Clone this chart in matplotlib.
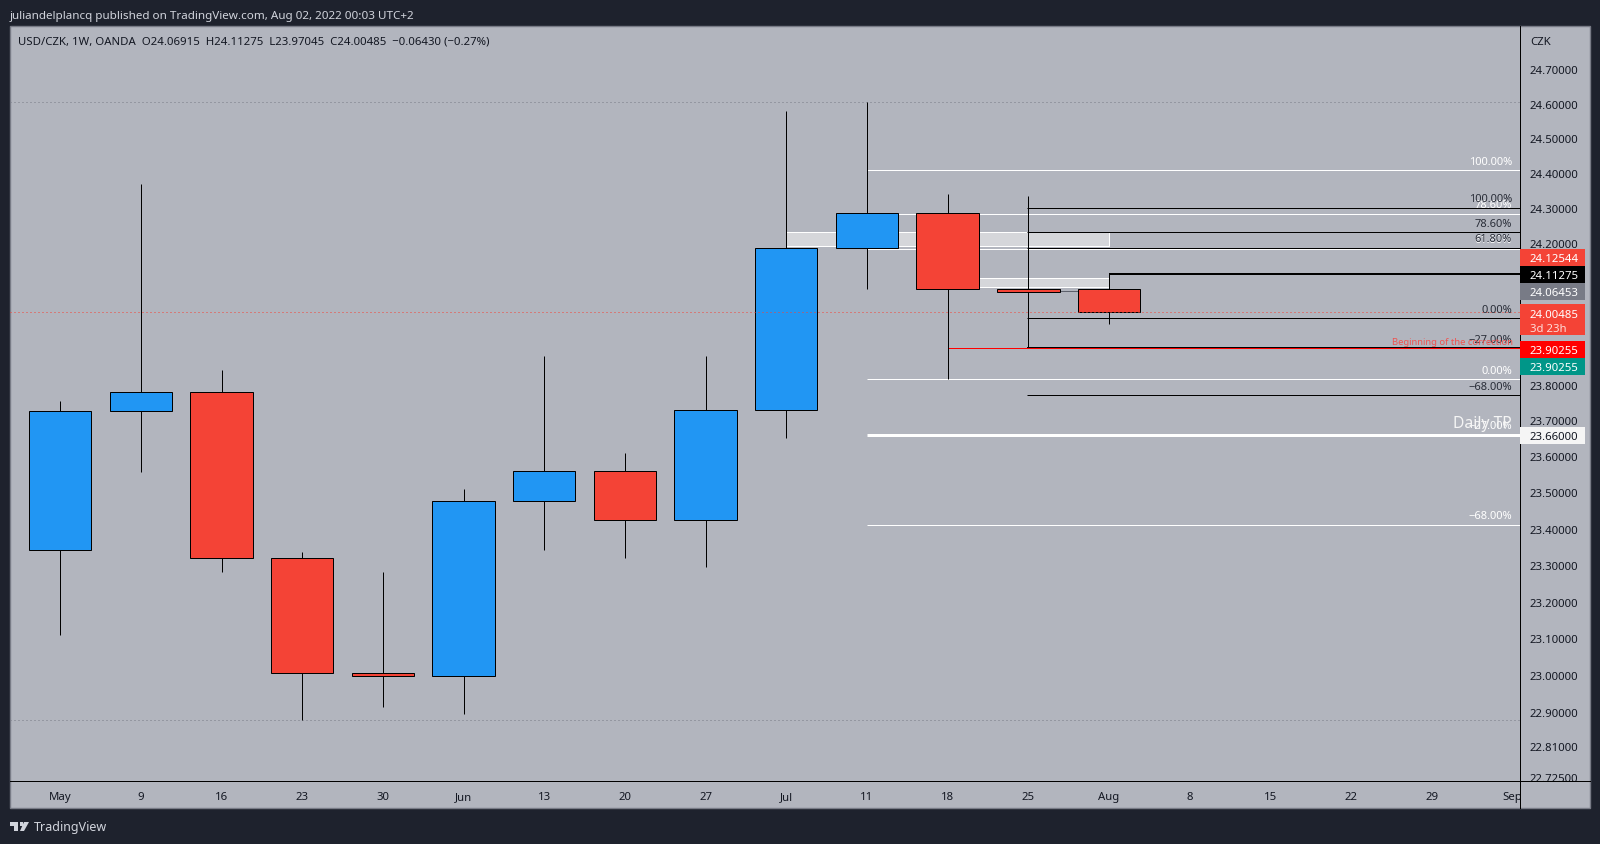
import matplotlib
matplotlib.use('Agg')
import matplotlib.pyplot as plt
from matplotlib.patches import Rectangle, Polygon
from matplotlib.ticker import NullLocator

W, H = 1600, 845
plt.rcParams['font.family'] = ['Noto Sans', 'DejaVu Sans']

# weekly candles, May to Aug 2022
opens = [23.34, 23.727, 23.78, 23.32, 23.005, 22.998, 23.475, 23.56, 23.425, 23.73, 24.185, 24.285, 24.07, 24.06915]
highs = [23.755, 24.37, 23.84, 23.335, 23.28, 23.51, 23.88, 23.61, 23.88, 24.58, 24.605, 24.34, 24.334, 24.11275]
lows = [23.11, 23.557, 23.28, 22.88, 22.915, 22.895, 23.34, 23.32, 23.295, 23.65, 24.07, 23.815, 23.905, 23.97045]
closes = [23.727, 23.78, 23.32, 23.005, 22.998, 23.475, 23.56, 23.425, 23.73, 24.185, 24.285, 24.07, 24.06, 24.00485]

time_pos = list(range(19))
time_labels = ['May', '9', '16', '23', '30', 'Jun', '13', '20', '27', 'Jul', '11', '18', '25', 'Aug', '8', '15', '22', '29', 'Sep']
price_ticks = [24.7, 24.6, 24.5, 24.4, 24.3, 24.2, 23.8, 23.7, 23.6, 23.5, 23.4, 23.3, 23.2, 23.1, 23.0, 22.9, 22.81, 22.725]

# fib levels: white one starts at the 11 Jul candle, black one at 25 Jul
white_prices = [24.408, 24.283, 24.183, 23.815, 23.66, 23.41]
white_labels = ['100.00%', '78.60%', '61.80%', '0.00%', '\u221227.00%', '\u221268.00%']
black_prices = [24.30, 24.23, 24.187, 23.987, 23.90255, 23.77]
black_labels = ['100.00%', '78.60%', '61.80%', '0.00%', '\u221227.00%', '\u221268.00%']

# price tags on the right axis
tag_prices = [24.12544, 24.11275, 24.06453, 23.90255, 23.90255, 23.66]
tag_tops = [250, 267, 284, 342, 359, 428]
tag_colors = ['#f44336', '#000000', '#787b86', '#ff0000', '#009688', '#f5f5f5']
tag_text = ['white', 'white', 'white', 'white', 'white', '#131722']

BG = '#1e222d'
PANE = '#b2b5be'
BLUE = '#2196f3'
RED = '#f44336'
ymin, ymax = 22.715, 24.826
xmin, xmax = -0.622, 18.094
PX = 0.72  # one pixel line


def px_axes(x0, y0, x1, y1):
    a = fig.add_axes([x0 / W, 1 - y1 / H, (x1 - x0) / W, (y1 - y0) / H])
    a.patch.set_alpha(0)
    a.set_xticks([])
    a.set_yticks([])
    for s in a.spines.values():
        s.set_visible(False)
    return a


fig = plt.figure(figsize=(W / 100, H / 100), dpi=100, facecolor=BG)
fig.patches.append(Rectangle((10 / W, 1 - 809 / H), 1580 / W, 782 / H, transform=fig.transFigure,
                             facecolor=PANE, edgecolor='#787b86', lw=1, zorder=-1))

ax = px_axes(10, 27, 1520, 782)
ax.set_yscale('log')
ax.yaxis.set_major_locator(NullLocator())
ax.yaxis.set_minor_locator(NullLocator())
ax.set_xlim(xmin, xmax)
ax.set_ylim(ymin, ymax)

# session high/low and last price
ax.axhline(24.605, color='#787b86', lw=PX, ls=(0, (1, 3)), zorder=1)
ax.axhline(22.88, color='#787b86', lw=PX, ls=(0, (1, 3)), zorder=1)

# zones behind the candles
ax.fill_between([9, 13], 24.19, 24.23, facecolor='#d5d6da', edgecolor='white', lw=PX, zorder=1.5)
ax.fill_between([11, 13], 24.075, 24.10, facecolor='#d5d6da', edgecolor='white', lw=PX, zorder=1.5)

for p in black_prices:
    ax.hlines(p, 11.98, xmax, color='black', lw=2 * PX if p == 23.90255 else PX, zorder=1.6)
for p in white_prices:
    ax.hlines(p, 10, xmax, color='white', lw=3 * PX if p == 23.66 else PX, zorder=1.7)
ax.hlines(23.90255, 11, xmax, color='#ff0000', lw=PX, zorder=1.8)
ax.hlines(24.11275, 13, xmax, color='black', lw=2 * PX, zorder=1.8)
ax.hlines(24.06453, 12, 13, color='#5d606b', lw=PX, zorder=1.8)

for i in range(len(opens)):
    up = closes[i] > opens[i]
    ax.vlines(i, lows[i], highs[i], color='black', lw=PX, zorder=2)
    ax.bar(i, closes[i] - opens[i], bottom=opens[i], width=0.773, color=BLUE if up else RED,
           edgecolor='black', lw=PX, zorder=3)

ax.axhline(closes[-1], color='#f44336', lw=PX, ls=(0, (1, 3)), zorder=4)

for p, t in zip(white_prices, white_labels):
    ax.annotate(t, (1, p), xycoords=ax.get_yaxis_transform(), xytext=(-8, 9), textcoords='offset pixels',
                ha='right', va='center', fontsize=8, color='white', zorder=5)
for p, t in zip(black_prices, black_labels):
    ax.annotate(t, (1, p), xycoords=ax.get_yaxis_transform(), xytext=(-8, 9), textcoords='offset pixels',
                ha='right', va='center', fontsize=8, color='#2a2e39', zorder=5)
ax.annotate('Beginning of the correction', (1, 23.90255), xycoords=ax.get_yaxis_transform(), xytext=(-7, 7),
            textcoords='offset pixels', ha='right', va='center', fontsize=6.8, color='#ef5350', zorder=6)
ax.annotate('Daily TP', (1, 23.66), xycoords=ax.get_yaxis_transform(), xytext=(-8, 12),
            textcoords='offset pixels', ha='right', va='center', fontsize=11.3, color='#f5f5f5', zorder=6)

# right price axis
ax_r = px_axes(1520, 27, 1590, 782)
ax_r.set_yscale('log')
ax_r.yaxis.set_major_locator(NullLocator())
ax_r.yaxis.set_minor_locator(NullLocator())
ax_r.set_xlim(0, 70)
ax_r.set_ylim(ymin, ymax)
for p in price_ticks:
    ax_r.annotate(f'{p:.5f}', (10, p), xytext=(0, -4), textcoords='offset pixels', ha='left', va='baseline',
                  fontsize=8.2, color='#131722', annotation_clip=False, clip_on=True)
ax_r.annotate('CZK', (10, 24.785), xytext=(0, -4), textcoords='offset pixels', ha='left', va='baseline',
              fontsize=8.2, color='#131722')

# time axis
ax_t = px_axes(10, 782, 1520, 809)
ax_t.set_xlim(xmin, xmax)
ax_t.set_ylim(0, 1)
for x, t in zip(time_pos, time_labels):
    ax_t.text(x, 0.333, t, ha='center', va='baseline', fontsize=8.2, color='#131722', clip_on=True)

# price tags, placed in pixels
for p, top, c, tc in zip(tag_prices, tag_tops, tag_colors, tag_text):
    fig.patches.append(Rectangle((1520 / W, 1 - (top + 17) / H), 65 / W, 17 / H, transform=fig.transFigure,
                                 facecolor=c, edgecolor='none', zorder=5))
    fig.text(1530 / W, 1 - (top + 12.5) / H, f'{p:.5f}', ha='left', va='baseline', fontsize=8.2, color=tc, zorder=6)
fig.patches.append(Rectangle((1520 / W, 1 - 336 / H), 65 / W, 31 / H, transform=fig.transFigure,
                             facecolor=RED, edgecolor='none', zorder=5))
fig.text(1530 / W, 1 - 318 / H, f'{closes[-1]:.5f}', ha='left', va='baseline', fontsize=8.2, color='white', zorder=6)
fig.text(1530 / W, 1 - 332 / H, '3d 23h', ha='left', va='baseline', fontsize=8.2, color='#ffdcd8', zorder=6)

# axis lines
fig.add_artist(plt.Line2D([1520 / W, 1520 / W], [1 - 27 / H, 1 - 809 / H], color='black', lw=PX))
fig.add_artist(plt.Line2D([10 / W, 1590 / W], [1 - 782 / H, 1 - 782 / H], color='black', lw=PX))

fig.text(10 / W, 1 - 16 / H, 'juliandelplancq published on TradingView.com, Aug 02, 2022 00:03 UTC+2',
         ha='left', va='center', fontsize=8.4, color='#d1d4dc')
fig.text(18 / W, 1 - 42 / H, 'USD/CZK, 1W, OANDA  O24.06915  H24.11275  L23.97045  C24.00485  \u22120.06430 (\u22120.27%)',
         ha='left', va='center', fontsize=8.2, color='#131722')

# logo
fig.patches.append(Polygon([(10 / W, 1 - 823 / H), (18 / W, 1 - 823 / H), (18 / W, 1 - 832 / H), (14 / W, 1 - 832 / H),
                            (14 / W, 1 - 827 / H), (10 / W, 1 - 827 / H)], transform=fig.transFigure, facecolor='#d1d4dc'))
fig.patches.append(Polygon([(24 / W, 1 - 823 / H), (29 / W, 1 - 823 / H), (24 / W, 1 - 832 / H), (20 / W, 1 - 832 / H)],
                           transform=fig.transFigure, facecolor='#d1d4dc'))
fig.patches.append(Rectangle((19.5 / W, 1 - 827 / H), 3.5 / W, 4 / H, transform=fig.transFigure, facecolor='#d1d4dc'))
fig.text(34 / W, 1 - 827.5 / H, 'TradingView', ha='left', va='center', fontsize=9, color='#d1d4dc')

fig.savefig('out.png', dpi=100, facecolor=BG)
